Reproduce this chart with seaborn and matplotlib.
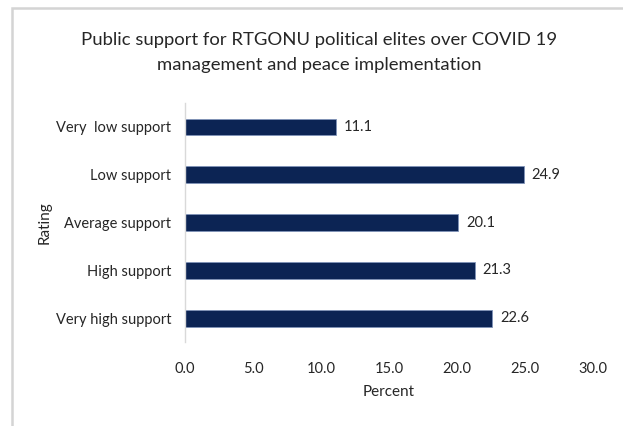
import matplotlib
matplotlib.use("Agg")
import matplotlib.pyplot as plt
import seaborn as sns
import pandas as pd
from matplotlib.patches import Rectangle

ratings = ["Very  low support", "Low support", "Average support", "High support", "Very high support"]
percents = [11.1, 24.9, 20.1, 21.3, 22.6]
x_ticks = [0, 5, 10, 15, 20, 25, 30]

sns.set_theme(style="white")
plt.rcParams['font.family'] = ['Lato', 'DejaVu Sans']

df = pd.DataFrame({'Rating': ratings, 'Percent': percents})

fig = plt.figure(figsize=(6.23, 4.26), dpi=100)
ax = fig.add_axes([0.297, 0.197, 0.655, 0.561])

sns.barplot(data=df, x='Percent', y='Rating', color='#002060', width=0.35,
            edgecolor='#8093b8', linewidth=0.6, ax=ax)

for i, v in enumerate(percents):
    ax.text(v + 0.55, i, f"{v:.1f}", va='center', ha='left', fontsize=10.5, color='#262626')

ax.set_xlim(0, 30)
ax.set_ylim(4.5, -0.5)
ax.set_xticks(x_ticks)
ax.set_xticklabels([f"{t:.1f}" for t in x_ticks], fontsize=10.5, color='#262626')
ax.tick_params(axis='y', labelsize=10.5, labelcolor='#262626', length=0, pad=10)
ax.tick_params(axis='x', length=0, pad=14)
for s in ['top', 'right', 'bottom']:
    ax.spines[s].set_visible(False)
ax.spines['left'].set_color('#d9d9d9')
ax.spines['left'].set_linewidth(1)

ax.set_xlabel('Percent', fontsize=11, color='#262626', labelpad=7)
ax.set_ylabel('Rating', fontsize=11, color='#262626', labelpad=3)

fig.text(0.512, 0.877, "Public support for RTGONU political elites over COVID 19\nmanagement and peace implementation",
         ha='center', va='center', fontsize=13.3, color='#262626', linespacing=1.65)

fig.patches.append(Rectangle((11.5 / 623, -0.1), 1.2, 1.1 - 7.5 / 426,
                             transform=fig.transFigure, fill=False,
                             edgecolor='#d4d4d4', linewidth=1.8))

fig.savefig('out.png', dpi=100)
